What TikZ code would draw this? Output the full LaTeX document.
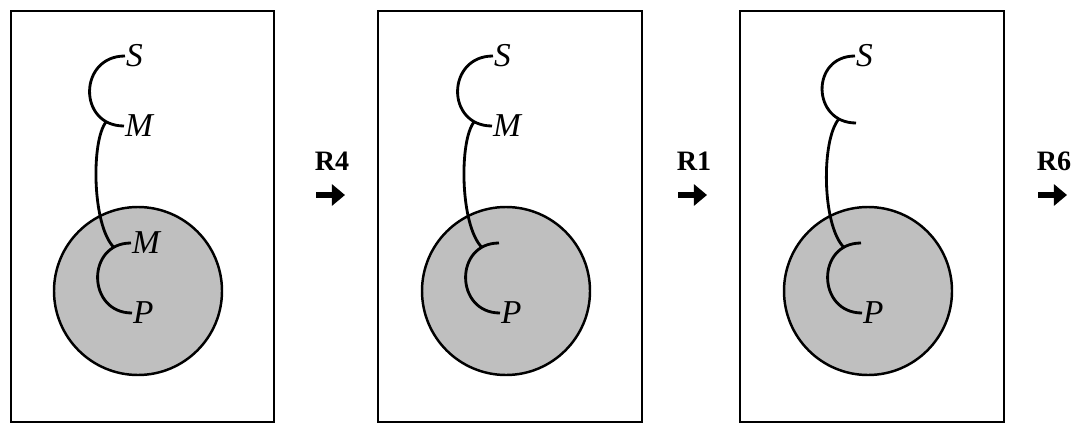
\documentclass[tikz,border=0pt]{standalone}
\usepackage{fontspec}
\setmainfont{Liberation Serif}
\usetikzlibrary{arrows.meta}

\tikzset{
  panel/.style={draw, line width=1.3pt},
  cell/.style={draw, fill=black!25, line width=1.4pt},
  strand/.style={line width=1.6pt},
  lab/.style={anchor=west, inner sep=0.5pt, font=\fontsize{19}{22}\selectfont\itshape},
  rulename/.style={font=\fontsize{16}{19}\selectfont\bfseries},
  bigarrow/.style={line width=3.6pt, -{Triangle[length=7.5pt,width=12pt]}}
}

\begin{document}
\begin{tikzpicture}[x=0.02cm, y=-0.02cm]
    \useasboundingbox (0,0) rectangle (1077,429);

    % Panel 1
    \draw[panel] (11,11) rectangle (274,422);
    \draw[cell] (138,291) circle[radius=84];
    \node[lab] (s1) at (125,56) {S};
    \node[lab] (m1) at (124,126) {M};
    \node[lab] (n1) at (131,243) {M};
    \node[lab] (p1) at (132,313) {P};
    \draw[strand] (s1.west) to[out=180, in=180, looseness=1.7] coordinate[pos=0.85] (j1) (m1.west);
    \draw[strand] (n1.west) to[out=180, in=180, looseness=1.65] coordinate[pos=0.15] (k1) (p1.west);
    \draw[strand] (j1) .. controls (91,140) and (92,225) .. (k1);

    % Rule R4
    \node[rulename] (r4) at (332,161) {R4};
    \coordinate (r4a) at (316,195);
    \coordinate (r4b) at (345,195);
    \draw[bigarrow] (r4a) -- (r4b);

    % Panel 2
    \begin{scope}[shift={(368,0)}]
    \draw[panel] (10,11) rectangle (274,422);
    \draw[cell] (138,291) circle[radius=84];
    \node[lab] (s2) at (125,56) {S};
    \node[lab] (m2) at (124,126) {M};
    \coordinate (n2) at (131,243);
    \node[lab] (p2) at (132,313) {P};
    \draw[strand] (s2.west) to[out=180, in=180, looseness=1.7] coordinate[pos=0.85] (j2) (m2.west);
    \draw[strand] (n2) to[out=180, in=180, looseness=1.65] coordinate[pos=0.15] (k2) (p2.west);
    \draw[strand] (j2) .. controls (91,140) and (92,225) .. (k2);
    \end{scope}

    % Rule R1
    \node[rulename] (r1) at (694,161) {R1};
    \coordinate (r1a) at (678,195);
    \coordinate (r1b) at (707,195);
    \draw[bigarrow] (r1a) -- (r1b);

    % Panel 3
    \begin{scope}[shift={(730,0)}]
    \draw[panel] (10,11) rectangle (274,422);
    \draw[cell] (138,291) circle[radius=84];
    \node[lab] (s3) at (125,56) {S};
    \coordinate (m3) at (126,123);
    \coordinate (n3) at (131,243);
    \node[lab] (p3) at (132,313) {P};
    \draw[strand] (s3.west) to[out=180, in=180, looseness=1.7] coordinate[pos=0.85] (j3) (m3);
    \draw[strand] (n3) to[out=180, in=180, looseness=1.65] coordinate[pos=0.15] (k3) (p3.west);
    \draw[strand] (j3) .. controls (91,140) and (92,225) .. (k3);
    \end{scope}

    % Rule R6
    \node[rulename] (r6) at (1054,161) {R6};
    \coordinate (r6a) at (1038,195);
    \coordinate (r6b) at (1067,195);
    \draw[bigarrow] (r6a) -- (r6b);
\end{tikzpicture}
\end{document}
